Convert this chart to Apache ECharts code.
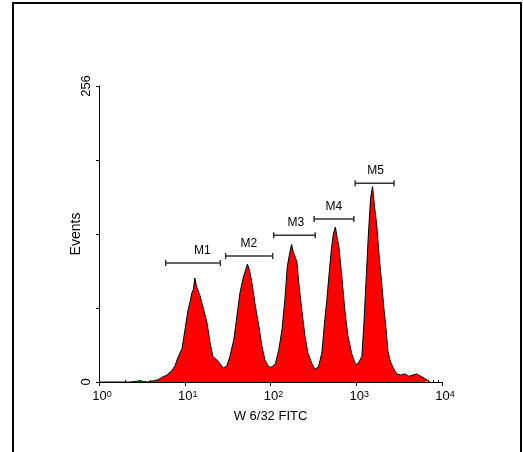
<!DOCTYPE html>
<html>
<head>
<meta charset="utf-8">
<script src="https://cdn.jsdelivr.net/npm/echarts@6/dist/echarts.min.js"></script>
<style>
  body { margin: 0; background: #fff; }
  #main { width: 523px; height: 452px; }
</style>
</head>
<body>
<div id="main"></div>
<script>
// FITC intensity (log scale) and event counts
var fitc = [1, 2.3, 3.0, 3.7, 4.3, 4.9, 5.4, 6.2, 7.1, 7.7,
  8.3, 9.3, 10.0, 10.9, 11.5, 12.1, 12.6, 13.1, 13.7, 14.3,
  15.0, 16.3, 18.2, 19.7, 21.3, 23.7, 25.7, 28.2, 31.0, 33.6,
  37.4, 40.6, 44.0, 48.3, 50.9, 53.8, 56.7, 60.7, 65.8, 73.2,
  79.4, 86.1, 95.8, 104, 114, 125, 136, 147, 157, 168,
  176, 185, 192, 203, 214, 232, 252, 273, 304, 329,
  362, 397, 430, 454, 479, 513, 541, 571, 594, 627,
  679, 736, 798, 889, 963, 1016, 1087, 1162, 1227, 1312,
  1384, 1469, 1549, 1626, 1726, 1859, 1988, 2098, 2214, 2336,
  2497, 2706, 2972, 3309, 3681, 4100, 4560, 5080, 5660, 6310,
  6920, 7210]
var events = [0, 0, 1, 0, 1, 2, 4, 6, 10, 14,
  21, 29, 44, 62, 69, 77, 80, 90, 83, 84,
  75, 65, 51, 34, 22, 19, 16, 12, 14, 22,
  37, 57, 77, 91, 96, 102, 97, 86, 68, 48,
  31, 19, 13, 13, 16, 28, 45, 71, 100, 112,
  119, 112, 109, 104, 85, 62, 40, 25, 16, 11,
  13, 25, 54, 71, 91, 115, 128, 134, 126, 117,
  91, 62, 40, 24, 17, 15, 18, 22, 50, 93,
  127, 159, 169, 153, 137, 107, 84, 64, 48, 27,
  18, 12, 7, 6, 7, 5, 6, 7, 5, 3,
  1, 0]

// marker gates M1..M5
var markerNames = ['M1', 'M2', 'M3', 'M4', 'M5']
var markerStart = [6, 30, 109, 323, 971]
var markerEnd = [26, 106, 332, 937, 2760]
var markerLevel = [103, 109, 127, 141, 172]
var markerLabelAt = [16, 56, 198, 548, 1679]

// minor ticks of the log axis
var minorTicks = []
;[1, 10, 100, 1000].forEach(function (d) {
  for (var k = 2; k <= 9; k++) minorTicks.push(k * d)
})

var yTicks = [0, 256]

var histData = fitc.map(function (v, i) { return [v, events[i]] })
var markerData = markerNames.map(function (n, i) {
  return [markerStart[i], markerEnd[i], markerLevel[i], markerLabelAt[i]]
})

var font = 'Liberation Sans'
var myChart = echarts.init(document.getElementById('main'))
myChart.setOption({
  animation: false,
  textStyle: { fontFamily: font },
  graphic: [{
    type: 'rect',
    shape: { x: 13, y: 3, width: 508, height: 470 },
    style: { fill: null, stroke: '#000', lineWidth: 2 }
  }],
  grid: { left: 99, top: 86, right: 81, bottom: 70, outerBoundsMode: 'none' },
  xAxis: [{
    type: 'log',
    logBase: 10,
    min: 1,
    max: 10000,
    name: 'W 6/32 FITC',
    nameLocation: 'middle',
    nameGap: 28,
    nameMoveOverlap: false,
    nameTextStyle: { color: '#000', fontSize: 13, fontFamily: font },
    axisLine: { lineStyle: { color: '#000', width: 1 } },
    axisTick: { length: 4, lineStyle: { color: '#000' } },
    splitLine: { show: false },
    axisLabel: {
      margin: 8,
      color: '#000',
      formatter: function (v) {
        var e = Math.round(Math.log10(v))
        return '{p|}{b|10}{s|' + e + '}'
      },
      rich: {
        p: { width: 6 },
        b: { fontSize: 13, fontFamily: font, color: '#000' },
        s: { fontSize: 9, fontFamily: font, color: '#000', verticalAlign: 'top' }
      }
    }
  }, {
    type: 'log',
    logBase: 10,
    min: 1,
    max: 10000,
    position: 'bottom',
    axisLine: { show: false },
    axisLabel: { show: false },
    splitLine: { show: false },
    axisTick: { inside: true, length: 2, customValues: minorTicks, lineStyle: { color: '#000' } }
  }],
  yAxis: {
    type: 'value',
    min: 0,
    max: 256,
    interval: 64,
    name: 'Events',
    nameLocation: 'middle',
    nameGap: 16,
    nameMoveOverlap: false,
    nameTextStyle: { color: '#000', fontSize: 14, fontFamily: font },
    axisLine: { show: true, lineStyle: { color: '#000', width: 1 } },
    axisTick: { show: true, length: 3, lineStyle: { color: '#000' } },
    splitLine: { show: false },
    axisLabel: {
      rotate: 90,
      margin: 6,
      color: '#000',
      fontSize: 13,
      formatter: function (v) { return yTicks.indexOf(v) >= 0 ? String(v) : '' }
    }
  },
  series: [{
    type: 'line',
    data: histData,
    symbol: 'none',
    smooth: false,
    lineStyle: { color: '#000', width: 1 },
    areaStyle: { color: '#ff0000', opacity: 1 },
    z: 2
  }, {
    type: 'custom',
    data: markerData,
    encode: { x: [0, 1, 3], y: 2 },
    z: 3,
    renderItem: function (params, api) {
      var s = api.coord([api.value(0), api.value(2)])
      var e = api.coord([api.value(1), api.value(2)])
      var l = api.coord([api.value(3), api.value(2)])
      var st = { stroke: '#333', lineWidth: 1.5 }
      return {
        type: 'group',
        children: [
          { type: 'line', shape: { x1: s[0], y1: s[1], x2: e[0], y2: e[1] }, style: st },
          { type: 'line', shape: { x1: s[0], y1: s[1] - 3, x2: s[0], y2: s[1] + 3 }, style: st },
          { type: 'line', shape: { x1: e[0], y1: e[1] - 3, x2: e[0], y2: e[1] + 3 }, style: st },
          {
            type: 'text',
            x: l[0],
            y: s[1] - 6,
            style: {
              text: markerNames[params.dataIndex],
              align: 'center',
              verticalAlign: 'bottom',
              fontSize: 12,
              fontFamily: font,
              fill: '#000'
            }
          }
        ]
      }
    }
  }]
})
</script>
</body>
</html>
